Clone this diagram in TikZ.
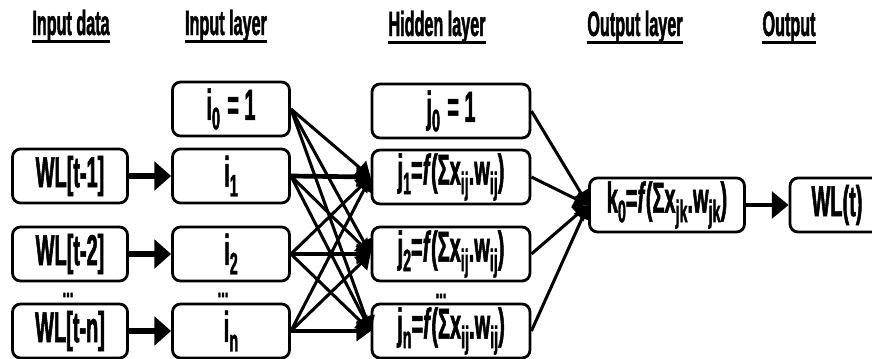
\documentclass[tikz,border=0pt]{standalone}
\usepackage{fontspec}
\usepackage{graphicx}
\newfontfamily\nf[FakeStretch=0.46,FakeBold=1.2]{Liberation Sans}
\usetikzlibrary{arrows.meta}
\newcommand\lo[1]{\raisebox{-0.22em}{\scalebox{0.72}{#1}}}
\begin{document}
\begin{tikzpicture}[x=0.03cm,y=-0.03cm,
  box/.style={draw, line width=2.4pt, rounded corners=0.24cm, minimum height=1.62cm, inner sep=0pt,
    font=\nf\bfseries\fontsize{37}{37}\selectfont},
  title/.style={inner sep=0pt, anchor=base, font=\nf\bfseries\fontsize{30}{30}\selectfont},
  ul/.style={line width=3pt},
  dots/.style={inner sep=0pt, font=\nf\bfseries\fontsize{24}{24}\selectfont},
  inarrow/.style={line width=4.5pt, -{Triangle[length=0.5cm,width=0.85cm]}},
  conn/.style={line width=2.6pt, -{Triangle[length=0.42cm,width=0.55cm]}},
  connh/.style={line width=4pt, -{Triangle[length=0.42cm,width=0.6cm]}},
  outarrow/.style={line width=3pt, -{Triangle[length=0.5cm,width=0.8cm]}}]
\useasboundingbox (0,0) rectangle (872,358);
% titles
\node[title] (t1) at (71,35) {Input data};
\node[title] (t2) at (226,35) {Input layer};
\node[title] (t3) at (437,36) {Hidden layer};
\node[title] (t4) at (635,36) {Output layer};
\node[title] (t5) at (789,36) {Output};
\foreach \t in {t1,t2,t3,t4,t5}
  \draw[ul] ([yshift=-0.2cm]\t.base west) -- ([yshift=-0.2cm]\t.base east);
% input data
\node[box, minimum width=3.45cm] (d1) at (70,176) {WL[t-1]};
\node[box, minimum width=3.45cm] (d2) at (70,254) {WL[t-2]};
\node[box, minimum width=3.45cm] (dn) at (70,331) {WL[t-n]};
\node[dots] (dd) at (68,295) {...};
% input layer
\node[box, minimum width=3.51cm] (i0) at (231,109) {i\lo{0}\,= 1};
\node[box, minimum width=3.51cm] (i1) at (231,176) {i\lo{1}};
\node[box, minimum width=3.51cm] (i2) at (231,254) {i\lo{2}};
\node[box, minimum width=3.51cm] (iN) at (231,331) {i\lo{n}};
\node[dots] (di) at (223,295) {...};
% hidden layer
\node[box, minimum width=4.74cm] (j0) at (451,111) {j\lo{0}\,= 1};
\node[box, minimum width=4.74cm] (j1) at (451,177) {j\lo{1}=\textit{f}(Σx\lo{ij}.w\lo{ij})};
\node[box, minimum width=4.74cm] (j2) at (451,254) {j\lo{2}=\textit{f}(Σx\lo{ij}.w\lo{ij})};
\node[box, minimum width=4.74cm] (jN) at (451,331) {j\lo{n}=\textit{f}(Σx\lo{ij}.w\lo{ij})};
\node[dots] (dj) at (441,296) {...};
% output layer
\node[box, minimum width=4.65cm] (k0) at (667,205) {k\lo{0}=\textit{f}(Σx\lo{jk}.w\lo{jk})};
\node[box, minimum width=2.82cm] (wl) at (837,205) {WL(t)};
% arrows
\draw[inarrow] (d1) -- (i1);
\draw[inarrow] (d2) -- (i2);
\draw[inarrow] (dn) -- (iN);
\foreach \s in {i0,i1,i2,iN}
  \foreach \t in {j1,j2,jN}
    \draw[conn] (\s.east) -- (\t.west);
\draw[connh] (i1.east) -- (j1.west);
\draw[connh] (i2.east) -- (j2.west);
\draw[connh] (iN.east) -- (jN.west);
\foreach \s in {j0,j1,j2,jN}
  \draw[conn] (\s.east) -- (k0.west);
\draw[outarrow] (k0) -- (wl);
\end{tikzpicture}
\end{document}
